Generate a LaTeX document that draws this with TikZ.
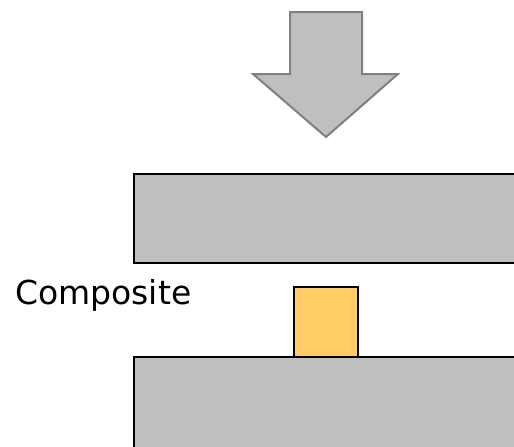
\documentclass[tikz,border=0pt]{standalone}
\usepackage{fontspec}
\setmainfont{DejaVu Sans}
\usetikzlibrary{positioning}
\definecolor{plategray}{RGB}{191,191,191}
\definecolor{arrowedge}{RGB}{128,128,128}
\definecolor{compfill}{RGB}{255,204,102}
\tikzset{
  plate/.style={draw=black, line width=2pt, fill=plategray},
  sample/.style={draw=black, line width=1.6pt, fill=compfill},
  pressarrow/.style={draw=arrowedge, line width=2pt, fill=plategray, line join=miter},
  lbl/.style={font=\fontsize{33}{38}\selectfont, inner sep=0pt, anchor=base west}
}
\begin{document}
\begin{tikzpicture}[x=1pt, y=-1pt]
  \useasboundingbox (0,0) rectangle (514,447);
  \clip (0,0) rectangle (514,447);
  % pressing arrow
  \draw[pressarrow] (290,12) -- (362,12) -- (362,74) -- (398,74) -- (326,137)
    -- (253,74) -- (290,74) -- cycle;
  % upper and lower plates
  \draw[plate] (134,174) rectangle (530,263);
  \draw[plate] (134,357) rectangle (530,460);
  % composite sample
  \draw[sample] (294,287) rectangle (358,357);
  \node[lbl] (comp) at (15,304) {Composite};
\end{tikzpicture}
\end{document}
